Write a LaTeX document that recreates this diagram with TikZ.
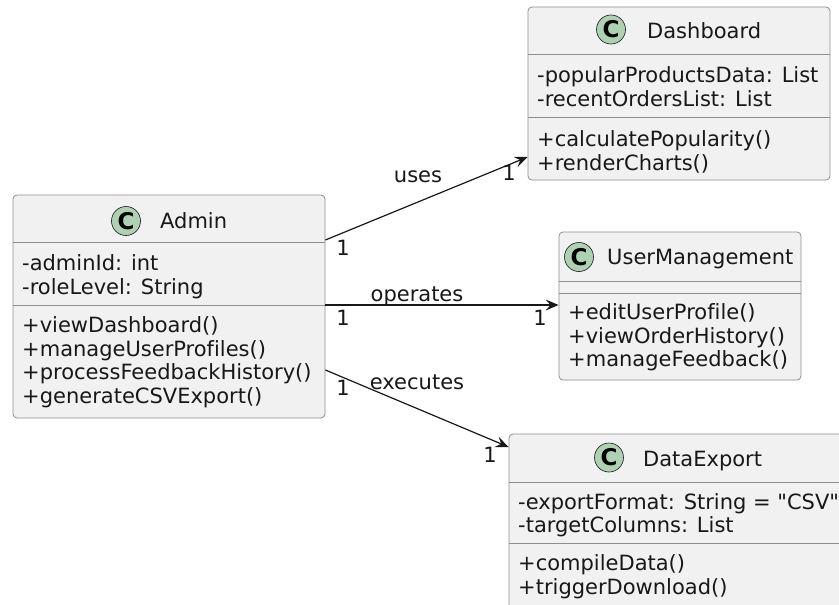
\documentclass[tikz,border=0pt]{standalone}
\usepackage{fontspec}
\setmainfont{DejaVu Sans}[Ligatures={TeXOff,CommonOff}]
\usetikzlibrary{arrows.meta}
\definecolor{boxfill}{HTML}{F1F1F1}
\definecolor{boxline}{HTML}{8E8E8E}
\definecolor{ink}{HTML}{181818}
\definecolor{cgreen}{HTML}{ADD1B2}
\begin{document}
\begin{tikzpicture}[x=1pt,y=-1pt,
  classbox/.style={draw=boxline, fill=boxfill, line width=0.8pt, rounded corners=4pt, inner sep=0pt},
  sepline/.style={draw=boxline, line width=0.8pt},
  txt/.style={anchor=base west, inner sep=0pt, text=ink, font=\fontsize{21}{23.5}\selectfont},
  lbl/.style={anchor=base, inner sep=0pt, text=ink, font=\fontsize{21}{23.5}\selectfont},
  cbadge/.style={circle, fill=cgreen, draw=ink, line width=0.6pt, minimum size=29pt, inner sep=0pt, text=black, font=\bfseries\fontsize{23}{23}\selectfont},
  assoc/.style={draw=ink, line width=1.2pt, -{Stealth[length=13pt,width=11pt,inset=5pt]}}
]
\useasboundingbox (0,0) rectangle (839,605);
\clip (0,0) rectangle (839,605);
\fill[white] (0,0) rectangle (839,605);

% ---------- Admin ----------
\node[classbox, minimum width=312pt, minimum height=223pt] (admin) at (169,306.5) {};
\draw[sepline] (13,242) -- (325,242);
\draw[sepline] (13,305) -- (325,305);
\node[cbadge] (adminC) at (126,221) {C};
\node[txt] (adminT) at (160,228.5) {Admin};
\node[txt] (a1) at (22,270.5) {-adminId: int};
\node[txt] (a2) at (22,294) {-roleLevel: String};
\node[txt] (a3) at (22,332.5) {+viewDashboard()};
\node[txt] (a4) at (22,356) {+manageUserProfiles()};
\node[txt] (a5) at (22,379.5) {+processFeedbackHistory()};
\node[txt] (a6) at (22,403) {+generateCSVExport()};

% ---------- Dashboard ----------
\node[classbox, minimum width=302pt, minimum height=173pt] (dash) at (679,93.5) {};
\draw[sepline] (528,54) -- (830,54);
\draw[sepline] (528,117) -- (830,117);
\node[cbadge] (dashC) at (611,29.5) {C};
\node[txt] (dashT) at (647,38.5) {Dashboard};
\node[txt] (d1) at (537,82.5) {-popularProductsData: List};
\node[txt] (d2) at (537,106) {-recentOrdersList: List};
\node[txt] (d3) at (537,146.5) {+calculatePopularity()};
\node[txt] (d4) at (537,170) {+renderCharts()};

% ---------- UserManagement ----------
\node[classbox, minimum width=242pt, minimum height=148pt] (um) at (680,306) {};
\draw[sepline] (559,281) -- (801,281);
\draw[sepline] (559,293) -- (801,293);
\node[cbadge] (umC) at (579,257) {C};
\node[txt] (umT) at (607,264.5) {UserManagement};
\node[txt] (u1) at (568,319) {+editUserProfile()};
\node[txt] (u2) at (568,343) {+viewOrderHistory()};
\node[txt] (u3) at (568,366.5) {+manageFeedback()};

% ---------- DataExport ----------
\node[classbox, minimum width=351pt, minimum height=186pt] (dexp) at (684.5,527) {};
\draw[sepline] (509,482) -- (860,482);
\draw[sepline] (509,543) -- (860,543);
\node[cbadge] (dexpC) at (609,457.5) {C};
\node[txt] (dexpT) at (643,466) {DataExport};
\node[txt] (e1) at (518,509) {-exportFormat: String = "CSV"};
\node[txt] (e2) at (518,532) {-targetColumns: List};
\node[txt] (e3) at (518,570.5) {+compileData()};
\node[txt] (e4) at (518,594) {+triggerDownload()};

% ---------- Connectors ----------
\draw[assoc] ([yshift=66.5pt]admin.east) -- ([yshift=-63.5pt]dash.west);
\draw[assoc] ([yshift=1.5pt]admin.east) -- ([yshift=1pt]um.west);
\draw[assoc] ([yshift=-63.5pt]admin.east) -- ([yshift=80pt]dexp.west);

\node[lbl] (l1) at (418,182) {uses};
\node[lbl] (l2) at (417,301) {operates};
\node[lbl] (l3) at (417,389) {executes};

\node[lbl] (m1) at (343,255) {1};
\node[lbl] (m2) at (509,180) {1};
\node[lbl] (m3) at (343,325) {1};
\node[lbl] (m4) at (540,325) {1};
\node[lbl] (m5) at (343,395) {1};
\node[lbl] (m6) at (490,462) {1};
\end{tikzpicture}
\end{document}
